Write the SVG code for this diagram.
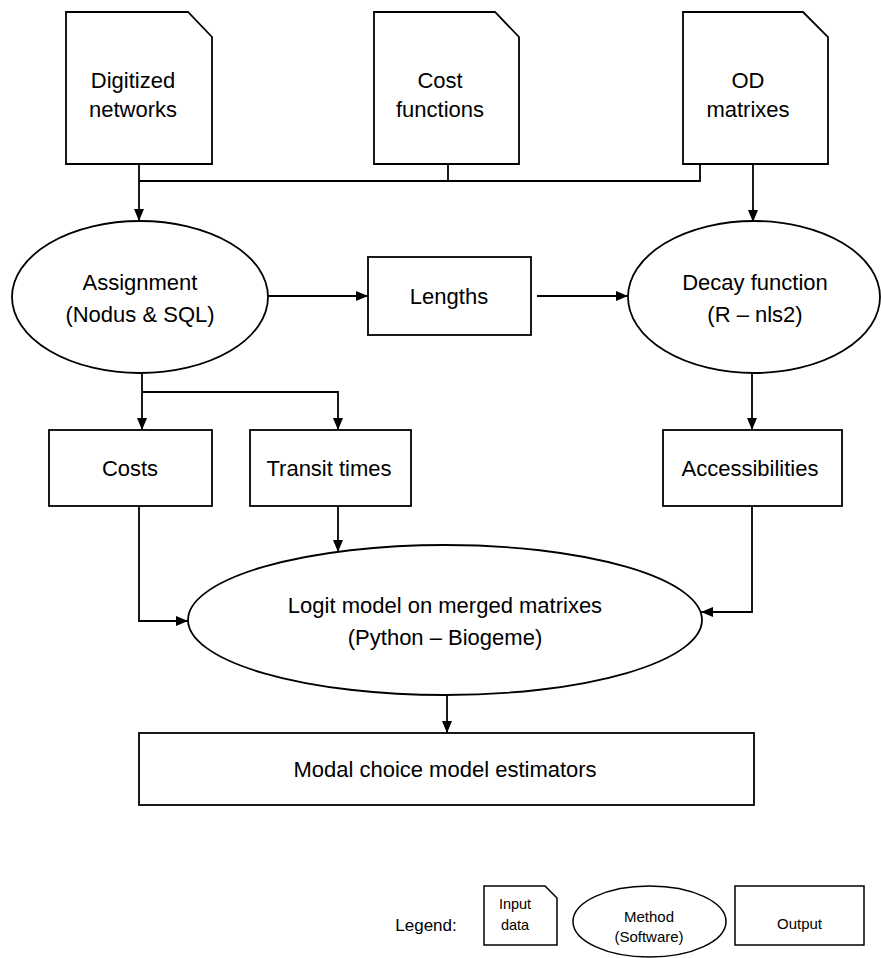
<svg xmlns="http://www.w3.org/2000/svg" width="881" height="958" viewBox="0 0 881 958">
<defs>
<style>
.s{fill:#fff;stroke:#000;stroke-width:1.8}
.l{fill:none;stroke:#000;stroke-width:1.8}
.t{font-family:"Liberation Sans",Arial,sans-serif;font-size:22px;fill:#000;text-anchor:middle}
.sm{font-family:"Liberation Sans",Arial,sans-serif;font-size:15px;fill:#000;text-anchor:middle}
</style>
<marker id="arr" viewBox="0 0 12 10" refX="12" refY="5" markerWidth="12" markerHeight="10" orient="auto" markerUnits="userSpaceOnUse"><path d="M0,0 L12,5 L0,10 z" fill="#000"/></marker>
</defs>
<rect width="881" height="958" fill="#fff"/>
<g id="connectors">
<path class="l" d="M139,164 V221" marker-end="url(#arr)"/>
<path class="l" d="M139,181 H700 V164"/>
<path class="l" d="M448,164 V181"/>
<path class="l" d="M753,164 V222" marker-end="url(#arr)"/>
<path class="l" d="M268,296 H368" marker-end="url(#arr)"/>
<path class="l" d="M537,296 H628" marker-end="url(#arr)"/>
<path class="l" d="M142,373 V430" marker-end="url(#arr)"/>
<path class="l" d="M142,392 H338 V430" marker-end="url(#arr)"/>
<path class="l" d="M752,373 V430" marker-end="url(#arr)"/>
<path class="l" d="M139,506 V621 H188" marker-end="url(#arr)"/>
<path class="l" d="M338,506 V552" marker-end="url(#arr)"/>
<path class="l" d="M752,506 V612 H701" marker-end="url(#arr)"/>
<path class="l" d="M447,695 V733" marker-end="url(#arr)"/>
</g>
<g id="digitized">
<path class="s" d="M66,12 H188 L212,37 V164 H66 Z"/>
<text class="t" x="133" y="88">Digitized</text>
<text class="t" x="133" y="117">networks</text>
</g>
<g id="cost">
<path class="s" d="M374,12 H495 L519,37 V164 H374 Z"/>
<text class="t" x="440" y="88">Cost</text>
<text class="t" x="440" y="117">functions</text>
</g>
<g id="od">
<path class="s" d="M683,12 H803 L828,37 V164 H683 Z"/>
<text class="t" x="748" y="88">OD</text>
<text class="t" x="748" y="117">matrixes</text>
</g>
<g id="assignment">
<ellipse class="s" cx="140" cy="297" rx="128" ry="76"/>
<text class="t" x="140" y="290">Assignment</text>
<text class="t" x="140" y="322">(Nodus &amp; SQL)</text>
</g>
<g id="lengths">
<rect class="s" x="368" y="257" width="163" height="78"/>
<text class="t" x="449" y="304">Lengths</text>
</g>
<g id="decay">
<ellipse class="s" cx="754" cy="297" rx="126" ry="76"/>
<text class="t" x="755" y="290">Decay function</text>
<text class="t" x="755" y="322">(R – nls2)</text>
</g>
<g id="costs">
<rect class="s" x="49" y="430" width="163" height="76"/>
<text class="t" x="130" y="476">Costs</text>
</g>
<g id="transit">
<rect class="s" x="250" y="430" width="161" height="76"/>
<text class="t" x="329" y="476">Transit times</text>
</g>
<g id="accessibilities">
<rect class="s" x="663" y="430" width="179" height="76"/>
<text class="t" x="750" y="476">Accessibilities</text>
</g>
<g id="logit">
<ellipse class="s" cx="445" cy="620" rx="257" ry="75"/>
<text class="t" x="445" y="613">Logit model on merged matrixes</text>
<text class="t" x="445" y="645">(Python – Biogeme)</text>
</g>
<g id="modal">
<rect class="s" x="139" y="733" width="615" height="72"/>
<text class="t" x="445" y="777">Modal choice model estimators</text>
</g>
<g id="legend">
<text class="sm" x="426" y="931" style="font-size:17px">Legend:</text>
<path class="s" style="stroke-width:1.5" d="M484,886 H545 L557,898 V945 H484 Z"/>
<text class="sm" x="515" y="909" style="font-size:14.5px">Input</text>
<text class="sm" x="515" y="930" style="font-size:14.5px">data</text>
<ellipse class="s" style="stroke-width:1.5" cx="649.5" cy="921.5" rx="76.5" ry="35.5"/>
<text class="sm" x="649" y="922">Method</text>
<text class="sm" x="649" y="942">(Software)</text>
<rect class="s" style="stroke-width:1.5" x="735" y="886" width="129" height="59"/>
<text class="sm" x="799.5" y="929">Output</text>
</g>
</svg>
